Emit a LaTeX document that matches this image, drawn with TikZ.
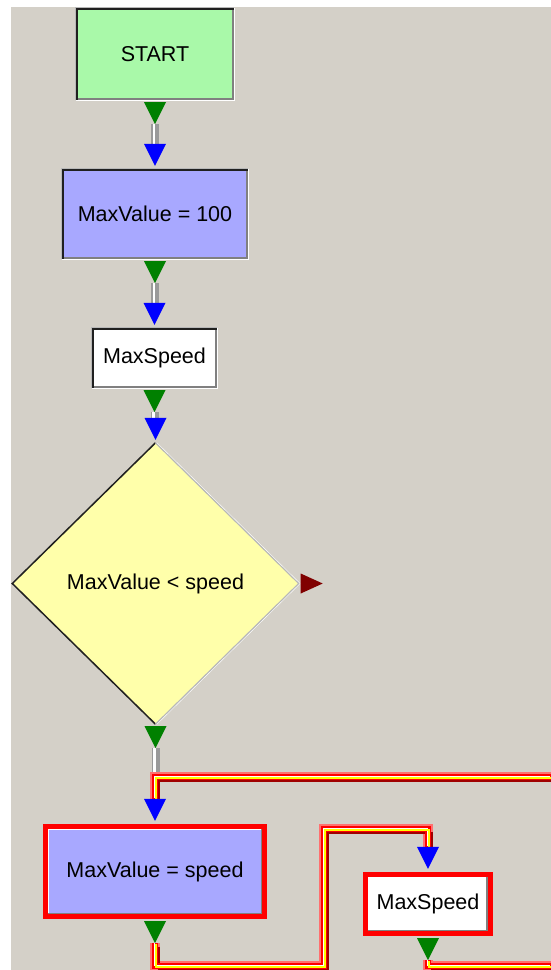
\documentclass[tikz,border=0pt]{standalone}
\usepackage{fontspec}
\setmainfont{Liberation Sans}
\usetikzlibrary{shapes.geometric,calc}
\definecolor{bggray}{HTML}{D4D0C8}
\definecolor{startfill}{HTML}{A9F9A9}
\definecolor{procfill}{HTML}{A8A8FF}
\definecolor{decfill}{HTML}{FFFFAA}
\definecolor{portgreen}{HTML}{008000}
\definecolor{portblue}{HTML}{0000FF}
\definecolor{portred}{HTML}{800000}
\definecolor{dkedge}{HTML}{202020}
\definecolor{grayedge}{HTML}{808080}
\definecolor{litedge}{HTML}{B8B8B8}
\definecolor{barmid}{HTML}{9A9A9A}
\definecolor{hlred}{HTML}{FF0000}
\definecolor{hllight}{HTML}{FF7070}
\definecolor{hldark}{HTML}{A00000}
\definecolor{hlyellow}{HTML}{FFFF00}
\tikzset{
  box/.style={rectangle, inner sep=0pt, font=\fontsize{21.5}{25}\selectfont, text=black},
  decbox/.style={diamond, aspect=1, inner sep=0pt, fill=decfill, font=\fontsize{21.5}{25}\selectfont, text=black},
  barline/.style={draw=barmid, line width=8pt},
  barshine/.style={draw=white, line width=2.5pt, transform canvas={xshift=-1pt}},
  hlband/.style 2 args={draw=#1, line width=#2, line join=miter, line cap=butt},
}
\newcommand\outport[1]{\fill[portgreen] ($(#1.south)+(-11,2)$) -- ++(22,0) -- ++(-11,22) -- cycle;}
\newcommand\inport[1]{\fill[portblue] ($(#1.north)+(-11,-25)$) -- ++(22,0) -- ++(-11,22) -- cycle;}
\newcommand\conbar[2]{\draw[barline] (#1) -- (#2); \draw[barshine] (#1) -- (#2);}
\newcommand\raisedframe[1]{%
  \draw[litedge, line width=1pt] ($(#1.south west)+(-0.5,0)$) -- ($(#1.north west)+(-0.5,-0.5)$) -- ($(#1.north east)+(0,-0.5)$);
  \draw[white, line width=1pt] ($(#1.north east)+(0.5,0)$) -- ($(#1.south east)+(0.5,0.5)$) -- ($(#1.south west)+(0,0.5)$);
  \draw[dkedge, line width=2pt] ($(#1.south west)+(1,0)$) -- ($(#1.north west)+(1,1)$) -- ($(#1.north east)+(0,1)$);
  \draw[grayedge, line width=2pt] ($(#1.north east)+(-1,2)$) -- ($(#1.south east)+(-1,-1)$) -- ($(#1.south west)+(2,-1)$);}
\newcommand\redframe[1]{%
  \draw[hlred, line width=5pt] ($(#1.north west)+(2.5,2.5)$) rectangle ($(#1.south east)+(-2.5,-2.5)$);
  \draw[white, line width=1pt] ($(#1.south west)+(5.5,-5)$) -- ($(#1.north west)+(5.5,5.5)$) -- ($(#1.north east)+(-5,5.5)$);
  \draw[grayedge, line width=1.5pt] ($(#1.north east)+(-5.75,5)$) -- ($(#1.south east)+(-5.75,-5.75)$) -- ($(#1.south west)+(5,-5.75)$);}
\newcommand\hilite[1]{%
  \draw[hlband={hllight}{10pt}] #1;
  \draw[hlband={hldark}{1.8pt}, transform canvas={xshift=4.1pt,yshift=-4.1pt}] #1;
  \draw[hlband={hlred}{6.6pt}] #1;
  \draw[hlband={white}{1.4pt}, transform canvas={xshift=-0.6pt,yshift=0.6pt}] #1;
  \draw[hlband={hlyellow}{2pt}, transform canvas={xshift=1pt,yshift=-1pt}] #1;}
\begin{document}
\begin{tikzpicture}[x=1pt, y=-1pt]
\useasboundingbox (0,0) rectangle (550,970);
\fill[white] (0,0) rectangle (550,970);
\fill[bggray] (11,7) rectangle (551,971);

% nodes
\node[box, fill=startfill, minimum width=158pt, minimum height=92pt] (start) at (155,54) {START};
\node[box, fill=procfill, minimum width=185pt, minimum height=90pt] (init) at (155,214) {MaxValue = 100\hspace{6pt}};
\node[box, fill=white, minimum width=124pt, minimum height=60pt] (ms1) at (154.5,358) {MaxSpeed\hspace{2pt}};
\node[decbox, minimum width=286pt, minimum height=281pt] (dec) at (155.5,583.5) {MaxValue < speed\hspace{3pt}};
\node[box, fill=procfill, minimum width=224pt, minimum height=95pt] (mvs) at (155,871.5) {MaxValue = speed\hspace{8pt}};
\node[box, fill=white, minimum width=129pt, minimum height=64pt] (ms2) at (428,904) {MaxSpeed\hspace{2pt}};

% frames
\raisedframe{start}
\raisedframe{init}
\raisedframe{ms1}
\redframe{mvs}
\redframe{ms2}
\draw[dkedge, line width=1.5pt, line join=miter] (dec.north) -- (dec.west) -- (dec.south);
\draw[white, line width=1pt] ($(dec.north)+(1,0)$) -- ($(dec.east)+(1,0)$) -- ($(dec.south)+(1,0)$);
\draw[litedge, line width=1.2pt] (dec.north) -- (dec.east) -- (dec.south);

% port coordinates
\coordinate (o1) at ($(start.south)+(0,24)$);
\coordinate (i1) at ($(init.north)+(0,-25)$);
\coordinate (o2) at ($(init.south)+(0,24)$);
\coordinate (i2) at ($(ms1.north)+(0,-25)$);
\coordinate (o3) at ($(ms1.south)+(0,24)$);
\coordinate (i3) at ($(dec.north)+(0,-25)$);
\coordinate (o4) at ($(dec.south)+(0,24)$);
\coordinate (i5) at ($(mvs.north)+(0,-25)$);
\coordinate (o5) at ($(mvs.south)+(0,24)$);
\coordinate (i6) at ($(ms2.north)+(0,-25)$);
\coordinate (o6) at ($(ms2.south)+(0,24)$);
\coordinate (toprail) at (551,777);
\coordinate (lowrail) at (551,966);
\coordinate (jog) at (324,829);

% plain connectors
\conbar{o1}{o1 |- i1}
\conbar{o2}{o2 |- i2}
\conbar{o3}{o3 |- i3}
\conbar{o4}{o4 |- toprail}

% highlighted connectors
\hilite{(toprail) -- (i5 |- toprail) -- (i5)}
\hilite{(o5) -- (o5 |- lowrail) -- (jog |- lowrail) -- (jog) -- (jog -| i6) -- (i6)}
\hilite{(o6) -- (o6 |- lowrail) -- (lowrail)}

% ports
\outport{start}
\inport{init}
\outport{init}
\inport{ms1}
\outport{ms1}
\inport{dec}
\outport{dec}
\fill[portred] ($(dec.east)+(2,-10)$) -- ++(0,20) -- ++(22,-10) -- cycle;
\inport{mvs}
\outport{mvs}
\inport{ms2}
\outport{ms2}
\end{tikzpicture}
\end{document}
